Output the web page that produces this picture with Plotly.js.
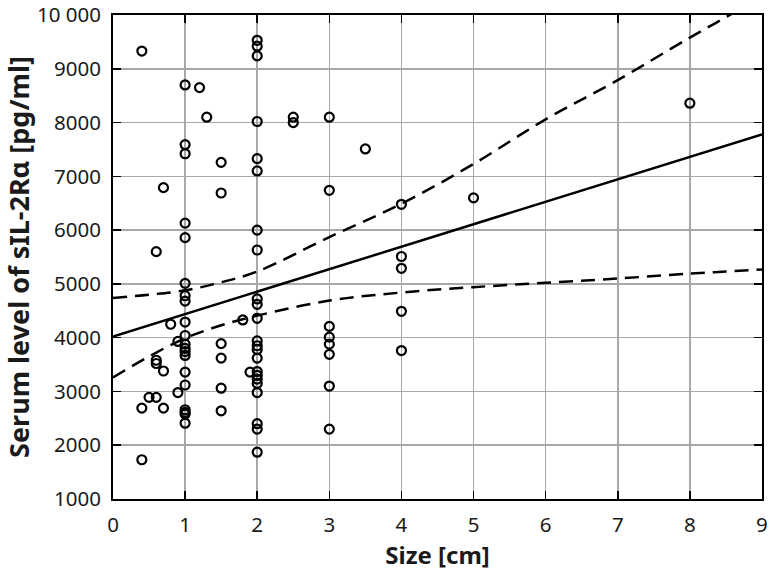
<!DOCTYPE html>
<html>
<head>
<meta charset="utf-8">
<script src="https://cdn.plot.ly/plotly-3.0.1.min.js"></script>
<style>
  html, body { margin: 0; padding: 0; background: white; }
  #chart { width: 769px; height: 571px; }
</style>
</head>
<body>
<div id="chart"></div>
<script>
// tumour size [cm] and serum sIL-2Ra [pg/ml]
var sizeCm = [
  0.4, 0.4, 0.4, 0.5, 0.6, 0.6, 0.6, 0.6, 0.7, 0.7, 0.7, 0.8, 0.9, 0.9,
  1, 1, 1, 1, 1, 1, 1, 1, 1, 1, 1, 1, 1, 1, 1, 1, 1, 1, 1, 1,
  1.2, 1.3,
  1.5, 1.5, 1.5, 1.5, 1.5, 1.5,
  1.8, 1.9,
  2, 2, 2, 2, 2, 2, 2, 2, 2, 2, 2, 2, 2, 2, 2, 2, 2, 2, 2, 2, 2, 2, 2,
  2.5, 2.5,
  3, 3, 3, 3, 3, 3, 3, 3,
  3.5,
  4, 4, 4, 4, 4,
  5, 8
];
var serumLevel = [
  9330, 2690, 1730, 2890, 5600, 3580, 3520, 2890, 6790, 3380, 2690, 4250, 3930, 2980,
  8700, 7590, 7420, 6130, 5860, 5010, 4780, 4680, 4290, 4040, 3880, 3800, 3740, 3670, 3360, 3120, 2660, 2610, 2580, 2410,
  8650, 8100,
  7260, 6690, 3890, 3620, 3060, 2640,
  4330, 3360,
  9530, 9420, 9240, 8020, 7330, 7100, 6000, 5630, 4720, 4620, 4360, 3940, 3850, 3780, 3620, 3370, 3300, 3230, 3150, 2980, 2400, 2300, 1870,
  8100, 8000,
  8100, 6740, 4210, 4010, 3880, 3690, 3100, 2300,
  7510,
  6480, 5510, 5290, 4490, 3760,
  6600, 8360
];

// regression line and 95% band
var fitX = [0, 9];
var fitY = [4020, 7780];
var bandX = [0, 0.5, 1, 1.5, 2, 3, 4, 5, 6, 7, 8, 8.5, 9];
var bandUpper = [4740, 4800, 4880, 5030, 5230, 5870, 6490, 7230, 8060, 8790, 9580, 9960, 10350];
var bandLower = [3260, 3650, 3990, 4230, 4410, 4690, 4840, 4940, 5020, 5100, 5190, 5230, 5270];

var xTicks = [0, 1, 2, 3, 4, 5, 6, 7, 8, 9];
var yTicks = [1000, 2000, 3000, 4000, 5000, 6000, 7000, 8000, 9000, 10000];
var yTickText = ['1000', '2000', '3000', '4000', '5000', '6000', '7000', '8000', '9000', '10 000'];

var fontFam = 'Noto Sans, Open Sans, sans-serif';
var dashStyle = '14px,8px';

var traces = [
  {
    x: bandX, y: bandUpper, type: 'scatter', mode: 'lines',
    line: {color: 'black', width: 2.5, dash: dashStyle, shape: 'spline'},
    hoverinfo: 'skip'
  },
  {
    x: bandX, y: bandLower, type: 'scatter', mode: 'lines',
    line: {color: 'black', width: 2.5, dash: dashStyle, shape: 'spline'},
    hoverinfo: 'skip'
  },
  {
    x: fitX, y: fitY, type: 'scatter', mode: 'lines',
    line: {color: 'black', width: 2.5}
  },
  {
    x: sizeCm, y: serumLevel, type: 'scatter', mode: 'markers',
    marker: {symbol: 'circle-open', size: 9, color: 'black', line: {width: 2.2, color: 'black'}}
  }
];

var axisCommon = {
  showgrid: true,
  gridcolor: '#a8a8a8',
  gridwidth: 1.5,
  zeroline: false,
  showline: true,
  linecolor: 'black',
  linewidth: 2,
  mirror: 'ticks',
  ticks: 'inside',
  ticklen: 8,
  tickwidth: 1.5,
  tickcolor: 'black',
  tickfont: {family: fontFam, size: 20.5, color: '#1a1a1a'},
  ticklabelstandoff: 6,
  ticklabeloverflow: 'allow'
};

var layout = {
  width: 769,
  height: 571,
  margin: {l: 113, r: 7, t: 15, b: 72},
  paper_bgcolor: 'white',
  plot_bgcolor: 'white',
  showlegend: false,
  font: {family: fontFam, color: '#1a1a1a'},
  xaxis: Object.assign({}, axisCommon, {
    range: [0, 9.0005],
    tickvals: xTicks,
    title: {text: 'Size [cm]', font: {family: fontFam, size: 24, weight: 'bold', color: '#1a1a1a'}, standoff: 2}
  }),
  yaxis: Object.assign({}, axisCommon, {
    range: [1000, 10000.5],
    tickvals: yTicks,
    ticktext: yTickText,
    title: {text: 'Serum level of sIL-2Rα [pg/ml]', font: {family: fontFam, size: 27, weight: 'bold', color: '#1a1a1a'}, standoff: 18}
  })
};

Plotly.newPlot('chart', traces, layout, {displayModeBar: false, staticPlot: true});
</script>
</body>
</html>
